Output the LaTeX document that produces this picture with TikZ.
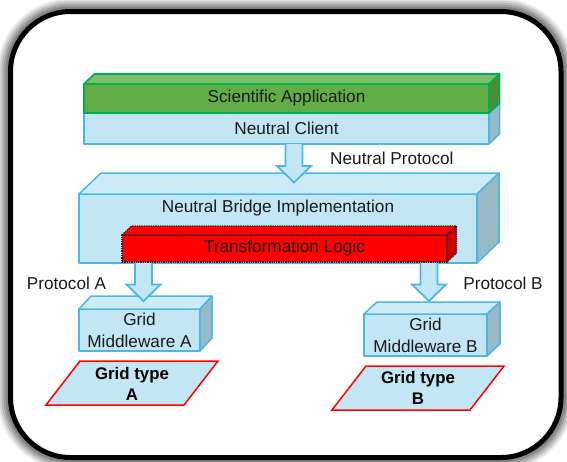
\documentclass[tikz,border=0pt]{standalone}
\usepackage{fontspec}
\setmainfont{Liberation Sans}
\usetikzlibrary{calc}

\definecolor{bfront}{HTML}{C3E6F5}
\definecolor{btop}{HTML}{CDEBF7}
\definecolor{bside}{HTML}{98B9C6}
\definecolor{bborder}{HTML}{4BB7E5}
\definecolor{gfront}{HTML}{62AD46}
\definecolor{gtop}{HTML}{7CC066}
\definecolor{gside}{HTML}{4D8C37}
\definecolor{gborder}{HTML}{00B050}
\definecolor{rfront}{HTML}{FF0000}
\definecolor{rside}{HTML}{CC0000}
\definecolor{textcol}{HTML}{1A1A1A}

% top and side faces of a box whose front face is a node
\newcommand\topface[4]{%
  \filldraw[#4] (#1.north west) -- ($(#1.north west)+(#2,-#3)$)
    -- ($(#1.north east)+(#2,-#3)$) -- (#1.north east) -- cycle;}
\newcommand\sideface[4]{%
  \filldraw[#4] (#1.north east) -- ($(#1.north east)+(#2,-#3)$)
    -- ($(#1.south east)+(#2,-#3)$) -- (#1.south east) -- cycle;}

% broad downward block arrow between two named points
\newcommand\blockarrow[2]{%
  \fill[bfront] let \p1=(#1), \p2=(#2) in
    (\x1-8.5pt,\y1) -- (\x1-8.5pt,\y2+16.5pt) -- (\x1-17pt,\y2+16.5pt) -- (\x1,\y2)
    -- (\x1+17pt,\y2+16.5pt) -- (\x1+8.5pt,\y2+16.5pt) -- (\x1+8.5pt,\y1) -- cycle;
  \draw[bborder, line width=1.8pt, line join=miter] let \p1=(#1), \p2=(#2) in
    (\x1-8.5pt,\y1) -- (\x1-8.5pt,\y2+16.5pt) -- (\x1-17pt,\y2+16.5pt) -- (\x1,\y2)
    -- (\x1+17pt,\y2+16.5pt) -- (\x1+8.5pt,\y2+16.5pt) -- (\x1+8.5pt,\y1);}

\tikzset{
  txt/.style={font=\fontsize{17.2}{22}\selectfont, text=textcol, inner sep=0pt, align=center},
  boldtxt/.style={txt, font=\fontsize{16.8}{21}\selectfont\bfseries, text=black},
  front/.style={inner sep=0pt, outer sep=0pt, line join=round, txt},
  bluefront/.style={front, draw=bborder, fill=bfront, line width=1.5pt},
  bluetop/.style={draw=bborder, fill=btop, line width=1.5pt, line join=round},
  blueside/.style={draw=bborder, fill=bside, line width=1.5pt, line join=round},
  greenfront/.style={front, draw=gborder, fill=gfront, line width=1.8pt},
  greentop/.style={draw=gborder, fill=gtop, line width=1.8pt, line join=round},
  greenside/.style={draw=gborder, fill=gside, line width=1.8pt, line join=round},
  redfront/.style={front, draw=black!85, densely dotted, fill=rfront, line width=1.3pt},
  redtop/.style={draw=black!85, densely dotted, fill=rfront, line width=1.3pt},
  redside/.style={draw=black!85, densely dotted, fill=rside, line width=1.3pt},
  gridplane/.style={draw=red, fill=bfront, line width=1.5pt, line join=miter},
}

\begin{document}
\begin{tikzpicture}[x=1pt, y=-1pt]
\useasboundingbox (0,0) rectangle (567,461);

% soft grey halo and the rounded frame
\foreach \w/\o in {26/0.08, 22/0.10, 18/0.12, 14/0.14, 10/0.16}
  \draw[line width=\w pt, black, opacity=\o, rounded corners=60pt] (10.5,11.5) rectangle (561,457.5);
\draw[line width=5pt, fill=white, rounded corners=60pt] (10.5,11.5) rectangle (561,457.5);

% application and client layers
\node[greenfront, minimum width=405pt, minimum height=29pt] (sci) at (286.5,98.5) {};
\node[bluefront, minimum width=405pt, minimum height=31pt] (nc) at (286.5,128.5) {Neutral Client};
\sideface{nc}{10.5}{10}{blueside}
\sideface{sci}{10.5}{10}{greenside}
\topface{sci}{10.5}{10}{greentop}
\node[greenfront, minimum width=405pt, minimum height=29pt] at (sci) {Scientific Application};

% bridge with its transformation core
\node[bluefront, minimum width=398pt, minimum height=69pt] (br) at (278,228.5) {};
\topface{br}{22}{21}{bluetop}
\sideface{br}{22}{21}{blueside}
\node[txt] (brlabel) at (278,208) {Neutral Bridge Implementation};
\node[redfront, minimum width=325pt, minimum height=27pt] (tl) at (284.5,248.5) {};
\topface{tl}{9.5}{9}{redtop}
\sideface{tl}{9.5}{9}{redside}
\node[txt] (tllabel) at (tl) {Transformation Logic};

% middleware boxes
\node[bluefront, minimum width=121pt, minimum height=42pt] (mwa) at (139.5,330) {Grid\\Middleware A};
\topface{mwa}{12}{13}{bluetop}
\sideface{mwa}{12}{13}{blueside}
\node[bluefront, minimum width=123pt, minimum height=42pt] (mwb) at (425.5,335) {Grid\\Middleware B};
\topface{mwb}{13}{12}{bluetop}
\sideface{mwb}{13}{12}{blueside}

% grid planes
\draw[gridplane] (80,361) -- (218,361) -- (184,405) -- (46,405) -- cycle;
\node[boldtxt] (gta) at (132,383.5) {Grid type\\A};
\draw[gridplane] (366,366) -- (504,366) -- (470,410) -- (332,410) -- cycle;
\node[boldtxt] (gtb) at (418,388) {Grid type\\B};

% protocol arrows
\coordinate (np-src) at (294,144);
\coordinate (np-tip) at (294,182.5);
\coordinate (pa-src) at (143.5,263);
\coordinate (pa-tip) at (143.5,301);
\coordinate (pb-src) at (429,263);
\coordinate (pb-tip) at (429,301);
\blockarrow{np-src}{np-tip}
\blockarrow{pa-src}{pa-tip}
\blockarrow{pb-src}{pb-tip}

\node[txt, anchor=west] (nplabel) at (330,158) {Neutral Protocol};
\node[txt] (palabel) at (66.5,283) {Protocol A};
\node[txt] (pblabel) at (503,283) {Protocol B};
\end{tikzpicture}
\end{document}
